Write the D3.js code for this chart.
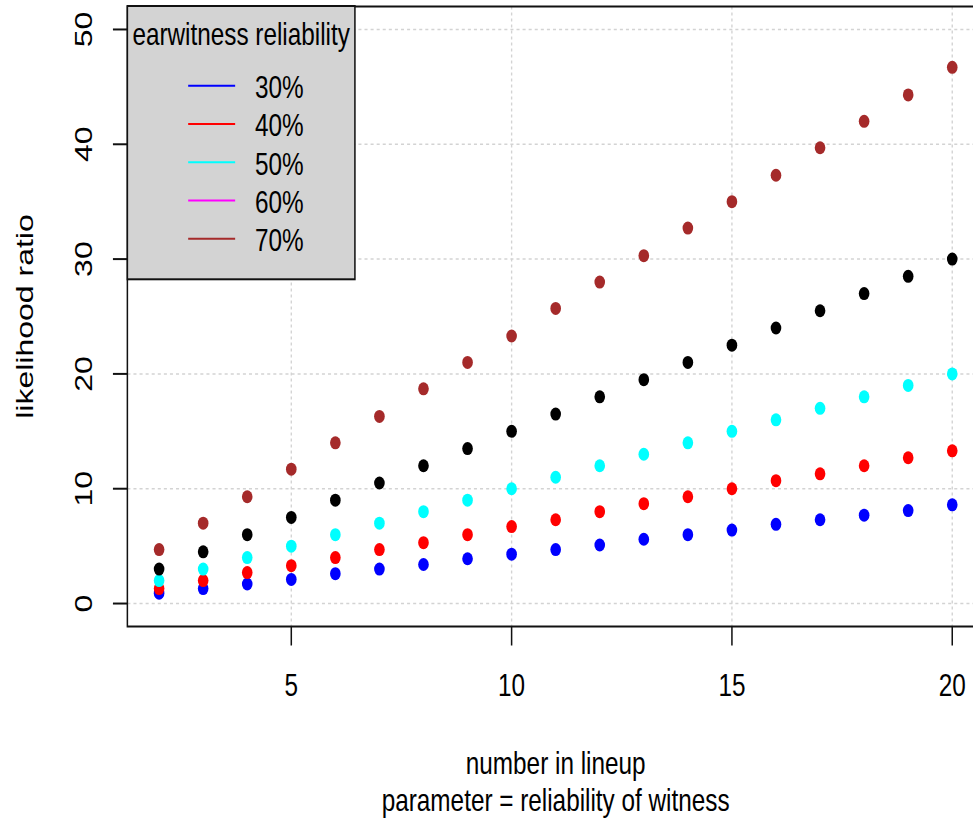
<!DOCTYPE html>
<html>
<head>
<meta charset="utf-8">
<script src="https://cdn.jsdelivr.net/npm/d3@7/dist/d3.min.js"></script>
<style>
body{margin:0;background:#fff;overflow:hidden}
text{font-family:"Liberation Sans",Arial,sans-serif;fill:#000}
</style>
</head>
<body>
<div id="chart"></div>
<script>
// ---- data ----
var lineup = [2,3,4,5,6,7,8,9,10,11,12,13,14,15,16,17,18,19,20];
var rel30 = [0.9,1.3,1.7,2.1,2.6,3.0,3.4,3.9,4.3,4.7,5.1,5.6,6.0,6.4,6.9,7.3,7.7,8.1,8.6];
var rel40 = [1.3,2.0,2.7,3.3,4.0,4.7,5.3,6.0,6.7,7.3,8.0,8.7,9.3,10.0,10.7,11.3,12.0,12.7,13.3];
var rel50 = [2,3,4,5,6,7,8,9,10,11,12,13,14,15,16,17,18,19,20];
var rel60 = [3.0,4.5,6.0,7.5,9.0,10.5,12.0,13.5,15.0,16.5,18.0,19.5,21.0,22.5,24.0,25.5,27.0,28.5,30.0];
var rel70 = [4.7,7.0,9.3,11.7,14.0,16.3,18.7,21.0,23.3,25.7,28.0,30.3,32.7,35.0,37.3,39.7,42.0,44.3,46.7];
var series = [rel30, rel40, rel50, rel60, rel70];
var pointColors = ["blue","red","cyan","black","brown"];
var legendLabels = ["30%","40%","50%","60%","70%"];
var legendColors = ["blue","red","cyan","magenta","brown"];
var xTicks = [5,10,15,20];
var yTicks = [0,10,20,30,40,50];

var width = 973, height = 818;
var sx = 0.76; // picture is squeezed sideways
var fs = 32;

var svg = d3.select("#chart").append("svg")
    .attr("width", width).attr("height", height);
var g = svg.append("g").attr("transform", "scale(" + sx + ",1)");

var x = d3.scaleLinear().domain([1.28, 20.72]).range([167.6, 1294.7]);
var y = d3.scaleLinear().domain([-2, 52]).range([626.5, 6.5]);
var x0 = x.range()[0], x1 = x.range()[1], yb = y.range()[0], yt = y.range()[1];

// grid (dotted lightgray)
g.append("g").selectAll("line").data(yTicks).enter().append("line")
    .attr("x1", x0).attr("x2", x1)
    .attr("y1", function(d){return y(d);}).attr("y2", function(d){return y(d);})
    .attr("stroke", "#d3d3d3").attr("stroke-width", 1.5).attr("stroke-dasharray", "4,4");
g.append("g").selectAll("line").data(xTicks).enter().append("line")
    .attr("y1", yt).attr("y2", yb)
    .attr("x1", function(d){return x(d);}).attr("x2", function(d){return x(d);})
    .attr("stroke", "#d3d3d3").attr("stroke-width", 1.8).attr("stroke-dasharray", "3,3");

// points (pch 19)
series.forEach(function(s, i){
    g.append("g").selectAll("ellipse").data(s).enter().append("ellipse")
        .attr("cx", function(d, j){return x(lineup[j]);})
        .attr("cy", function(d){return y(d);})
        .attr("rx", 7).attr("ry", 6.5)
        .attr("fill", pointColors[i]);
});

// box
g.append("rect").attr("x", x0).attr("y", yt).attr("width", x1 - x0).attr("height", yb - yt)
    .attr("fill", "none").attr("stroke", "#111").attr("stroke-width", 2);

// x axis
var xa = g.append("g");
xa.selectAll("line").data(xTicks).enter().append("line")
    .attr("x1", function(d){return x(d);}).attr("x2", function(d){return x(d);})
    .attr("y1", yb).attr("y2", yb + 19)
    .attr("stroke", "#111").attr("stroke-width", 2);
xa.selectAll("text").data(xTicks).enter().append("text")
    .attr("x", function(d){return x(d);}).attr("y", 696)
    .attr("text-anchor", "middle").style("font-size", fs + "px")
    .text(function(d){return d;});

// y axis
var ya = g.append("g");
ya.selectAll("line").data(yTicks).enter().append("line")
    .attr("x1", x0 - 19).attr("x2", x0)
    .attr("y1", function(d){return y(d);}).attr("y2", function(d){return y(d);})
    .attr("stroke", "#111").attr("stroke-width", 2);
ya.selectAll("text").data(yTicks).enter().append("text")
    .attr("transform", function(d){return "translate(121," + y(d) + ") rotate(-90)";})
    .attr("text-anchor", "middle").style("font-size", fs + "px")
    .text(function(d){return d;});

// axis titles
g.append("text").attr("transform", "translate(44," + ((yt + yb) / 2) + ") rotate(-90)")
    .attr("text-anchor", "middle").style("font-size", fs + "px").text("likelihood ratio");
g.append("text").attr("x", (x0 + x1) / 2).attr("y", 774)
    .attr("text-anchor", "middle").style("font-size", fs + "px").text("number in lineup");
g.append("text").attr("x", (x0 + x1) / 2).attr("y", 811)
    .attr("text-anchor", "middle").style("font-size", fs + "px").text("parameter = reliability of witness");

// legend
var lg = g.append("g");
lg.append("rect").attr("x", x0).attr("y", 6).attr("width", 467 - x0).attr("height", 273.3)
    .attr("fill", "#d3d3d3").attr("stroke", "#111").attr("stroke-width", 2);
lg.append("text").attr("x", (x0 + 467) / 2).attr("y", 45)
    .attr("text-anchor", "middle").style("font-size", fs + "px").text("earwitness reliability");
var items = lg.selectAll("g.item").data(legendLabels).enter().append("g").attr("class", "item")
    .attr("transform", function(d, i){return "translate(0," + (85.7 + i * 38.25) + ")";});
items.append("line").attr("x1", 247.6).attr("x2", 309.4).attr("y1", 0).attr("y2", 0)
    .attr("stroke", function(d, i){return legendColors[i];}).attr("stroke-width", 2);
items.append("text").attr("x", 335.5).attr("y", 12.5).style("font-size", fs + "px")
    .text(function(d){return d;});
</script>
</body>
</html>
